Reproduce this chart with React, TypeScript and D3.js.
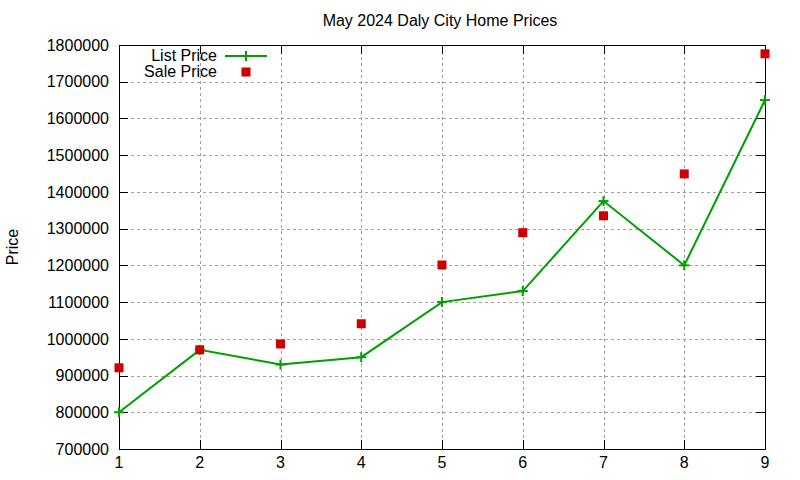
import { useEffect, useRef } from "react";
import * as d3 from "d3";

const months = [1, 2, 3, 4, 5, 6, 7, 8, 9];
const listPrice = [800000, 970000, 930000, 950000, 1100000, 1130000, 1375000, 1200000, 1650000];
const salePrice = [921000, 970000, 986000, 1041000, 1201000, 1289000, 1335000, 1449000, 1776000];
const yTicks = [700000, 800000, 900000, 1000000, 1100000, 1200000, 1300000, 1400000, 1500000, 1600000, 1700000, 1800000];

const GREEN = "#00a000";
const RED = "#cc0000";
const FONT = "'Liberation Sans', Arial, sans-serif";

export default function App() {
  const svgRef = useRef<SVGSVGElement>(null);

  useEffect(() => {
    if (!svgRef.current) return;
    const svg = d3.select(svgRef.current);
    svg.selectAll("*").remove();

    const left = 119, right = 765, top = 45, bottom = 449;
    const x = d3.scaleLinear().domain([1, 9]).range([left, right]);
    const y = d3.scaleLinear().domain([700000, 1800000]).range([bottom, top]);

    svg.append("rect").attr("width", 800).attr("height", 480).attr("fill", "#fff");

    // grid
    const grid = svg.append("g").attr("stroke", "#a0a0a0").attr("stroke-dasharray", "3,3").attr("stroke-width", 1);
    yTicks.slice(1, -1).forEach((t) => {
      grid.append("line").attr("x1", left).attr("x2", right)
        .attr("y1", Math.round(y(t)) + 0.5).attr("y2", Math.round(y(t)) + 0.5);
    });
    months.slice(1, -1).forEach((m) => {
      grid.append("line").attr("y1", top).attr("y2", bottom)
        .attr("x1", Math.round(x(m)) + 0.5).attr("x2", Math.round(x(m)) + 0.5);
    });

    // border + inward ticks (mirrored)
    const axes = svg.append("g").attr("stroke", "#000").attr("stroke-width", 1);
    axes.append("rect").attr("x", left + 0.5).attr("y", top + 0.5)
      .attr("width", right - left).attr("height", bottom - top).attr("fill", "none");
    yTicks.forEach((t) => {
      const yy = Math.round(y(t)) + 0.5;
      axes.append("line").attr("x1", left).attr("x2", left + 9).attr("y1", yy).attr("y2", yy);
      axes.append("line").attr("x1", right - 9).attr("x2", right).attr("y1", yy).attr("y2", yy);
    });
    months.forEach((m) => {
      const xx = Math.round(x(m)) + 0.5;
      axes.append("line").attr("x1", xx).attr("x2", xx).attr("y1", bottom).attr("y2", bottom - 9);
      axes.append("line").attr("x1", xx).attr("x2", xx).attr("y1", top).attr("y2", top + 9);
    });

    // tick labels
    const labels = svg.append("g").attr("font-family", FONT).attr("font-size", 16).attr("fill", "#000");
    yTicks.forEach((t) => {
      labels.append("text").attr("x", left - 10).attr("y", y(t)).attr("dy", "0.36em")
        .attr("text-anchor", "end").text(String(t));
    });
    months.forEach((m) => {
      labels.append("text").attr("x", x(m)).attr("y", bottom + 19)
        .attr("text-anchor", "middle").text(String(m));
    });

    // title & y label
    svg.append("text").attr("x", 440).attr("y", 26).attr("text-anchor", "middle")
      .attr("font-family", FONT).attr("font-size", 16).text("May 2024 Daly City Home Prices");
    svg.append("text").attr("transform", `translate(18,${247}) rotate(-90)`)
      .attr("text-anchor", "middle").attr("font-family", FONT).attr("font-size", 16).text("Price");

    // list price line
    const line = d3.line<number>().x((_, i) => x(months[i])).y((d) => y(d));
    svg.append("path").datum(listPrice).attr("d", line).attr("fill", "none")
      .attr("stroke", GREEN).attr("stroke-width", 2);
    const plus = (g: d3.Selection<SVGGElement, unknown, null, undefined>, cx: number, cy: number) => {
      g.append("line").attr("x1", cx - 5).attr("x2", cx + 5).attr("y1", cy).attr("y2", cy);
      g.append("line").attr("x1", cx).attr("x2", cx).attr("y1", cy - 5).attr("y2", cy + 5);
    };
    const pts = svg.append("g").attr("stroke", GREEN).attr("stroke-width", 2);
    listPrice.forEach((v, i) => plus(pts, x(months[i]), y(v)));

    // sale price squares
    svg.append("g").selectAll("rect").data(salePrice).join("rect")
      .attr("x", (_, i) => x(months[i]) - 4.5).attr("y", (d) => y(d) - 4.5)
      .attr("width", 9).attr("height", 9).attr("fill", RED);

    // legend
    const lg = svg.append("g").attr("font-family", FONT).attr("font-size", 16);
    lg.append("text").attr("x", 217).attr("y", 55).attr("dy", "0.36em").attr("text-anchor", "end").text("List Price");
    lg.append("text").attr("x", 217).attr("y", 71).attr("dy", "0.36em").attr("text-anchor", "end").text("Sale Price");
    lg.append("line").attr("x1", 225).attr("x2", 267).attr("y1", 56).attr("y2", 56)
      .attr("stroke", GREEN).attr("stroke-width", 2);
    const lp = lg.append("g").attr("stroke", GREEN).attr("stroke-width", 2);
    plus(lp, 246, 56);
    lg.append("rect").attr("x", 241.5).attr("y", 67.5).attr("width", 9).attr("height", 9).attr("fill", RED);
  }, []);

  return <svg ref={svgRef} width={800} height={480} style={{ position: "absolute", left: 0, top: 0 }} />;
}
